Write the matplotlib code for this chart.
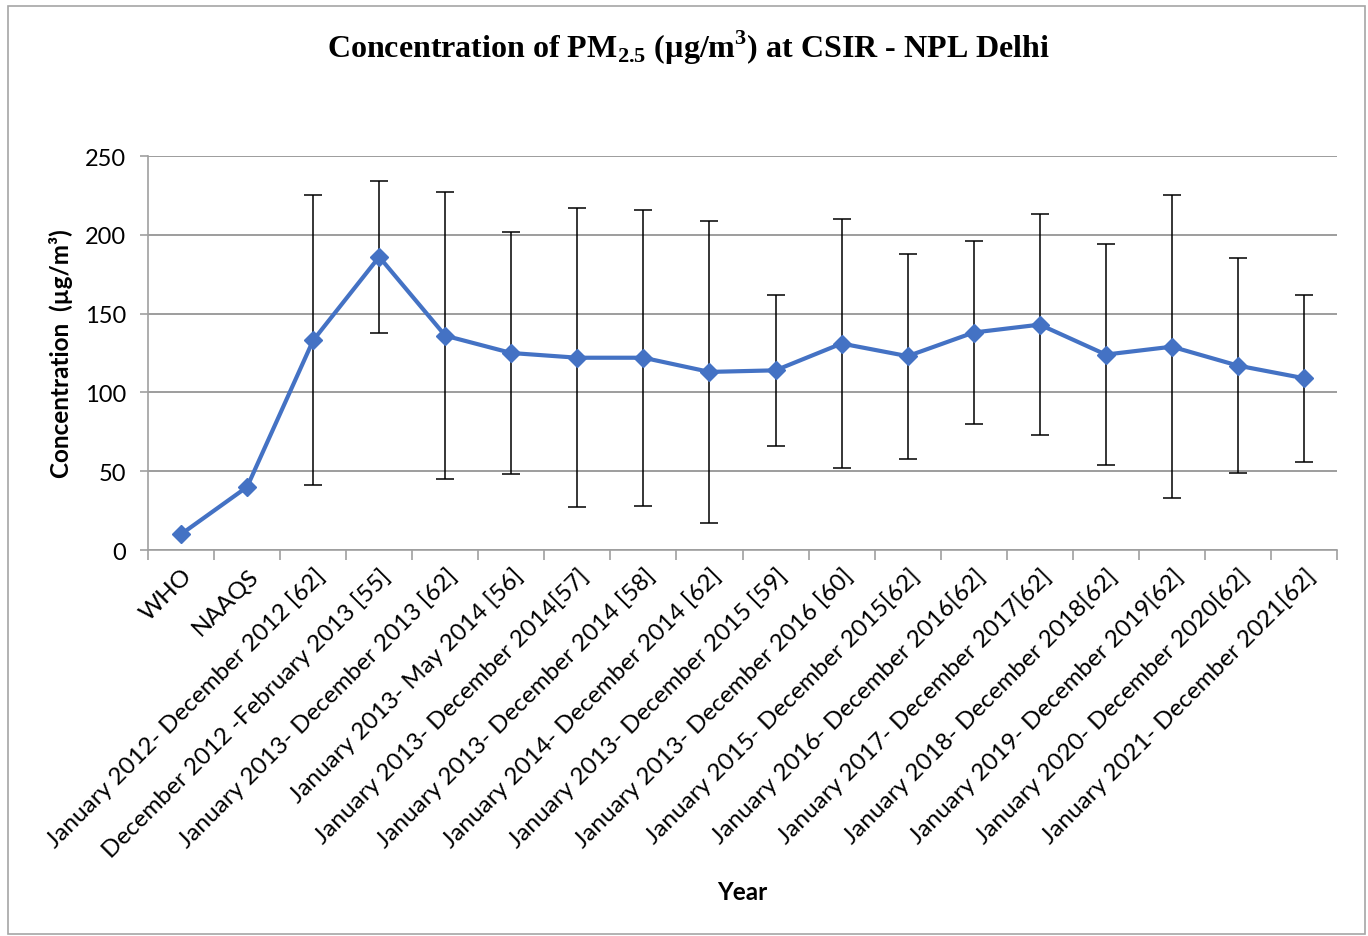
import numpy as np
import matplotlib
matplotlib.use("Agg")
import matplotlib.pyplot as plt
from matplotlib.patches import Rectangle

# ── data ─────────────────────────────────────────────────────────────
labels = [
    "WHO",
    "NAAQS",
    "January 2012- December 2012 [62]",
    "December 2012 -February 2013 [55]",
    "January 2013- December 2013 [62]",
    "January 2013- May 2014 [56]",
    "January 2013- December 2014[57]",
    "January 2013- December 2014 [58]",
    "January 2014- December 2014 [62]",
    "January 2013- December 2015 [59]",
    "January 2013- December 2016 [60]",
    "January 2015- December 2015[62]",
    "January 2016- December 2016[62]",
    "January 2017- December 2017[62]",
    "January 2018- December 2018[62]",
    "January 2019- December 2019[62]",
    "January 2020- December 2020[62]",
    "January 2021- December 2021[62]",
]
mean_pm = [10, 40, 133, 186, 136, 125, 122, 122, 113, 114, 131, 123,
           138, 143, 124, 129, 117, 109]
sd_pm = [np.nan, np.nan, 92, 48, 91, 77, 95, 94, 96, 48, 79, 65,
         58, 70, 70, 96, 68, 53]
y_ticks = [0, 50, 100, 150, 200, 250]

LINE_BLUE = "#4472C4"
GRID_GRAY = "#8C8C8C"
TICK_FONT = "Lato"

W, H = 1368, 937
fig = plt.figure(figsize=(W / 100, H / 100), dpi=100)

# chart area border
fig.patches.append(Rectangle((8 / W, 1 - 935 / H), (1365 - 8) / W,
                             (935 - 7) / H, transform=fig.transFigure,
                             fill=False, edgecolor="#A6A6A6", lw=1.2))

ax = fig.add_axes([148 / W, 1 - 551 / H, (1337 - 148) / W, (551 - 157) / H])

x = np.arange(len(labels))
mean_arr = np.array(mean_pm, dtype=float)
sd_arr = np.array(sd_pm, dtype=float)
has_err = ~np.isnan(sd_arr)

ax.errorbar(x[has_err], mean_arr[has_err], yerr=sd_arr[has_err],
            fmt="none", ecolor="black", elinewidth=1.1, capsize=6.5,
            capthick=1.1, zorder=2)
ax.plot(x, mean_arr, color=LINE_BLUE, lw=3, marker="D", markersize=9,
        zorder=3)

ax.set_xlim(-0.5, len(labels) - 0.5)
ax.set_ylim(0, 250)
ax.set_yticks(y_ticks)
ax.yaxis.grid(True, color=GRID_GRAY, lw=1.2)
ax.set_axisbelow(True)

for s in ("top", "right"):
    ax.spines[s].set_visible(False)
for s in ("left", "bottom"):
    ax.spines[s].set_color("#A0A0A0")
    ax.spines[s].set_linewidth(1.2)

ax.set_xticks(x)
ax.set_xticks(np.arange(-0.5, len(labels), 1.0), minor=True)
ax.tick_params(axis="x", which="major", length=0, pad=10)
ax.tick_params(axis="x", which="minor", length=7, color="#A0A0A0",
               width=1.2, direction="out")
ax.tick_params(axis="y", length=6, color="#A0A0A0", width=1.2,
               direction="out", pad=10)
ax.set_xticklabels(labels, rotation=45, ha="right", va="top",
                   rotation_mode="anchor", fontsize=17.5, family=TICK_FONT)
for t in ax.get_yticklabels():
    t.set_fontsize(17)
    t.set_family(TICK_FONT)

ax.set_ylabel("Concentration  (µg/m³)", fontsize=17.5, fontweight="bold",
              family=TICK_FONT, labelpad=8)
fig.text(742 / W, 1 - 893 / H, "Year", ha="center", va="center",
         fontsize=17.5, fontweight="bold", family=TICK_FONT)

fig.text(688 / W, 1 - 48 / H,
         r"Concentration of PM$_{\mathregular{2.5}}$ (µg/m$^{\mathregular{3}}$) at CSIR - NPL Delhi",
         ha="center", va="center", fontsize=23, fontweight="bold",
         family="Liberation Serif")

fig.savefig("out.png", dpi=100)
